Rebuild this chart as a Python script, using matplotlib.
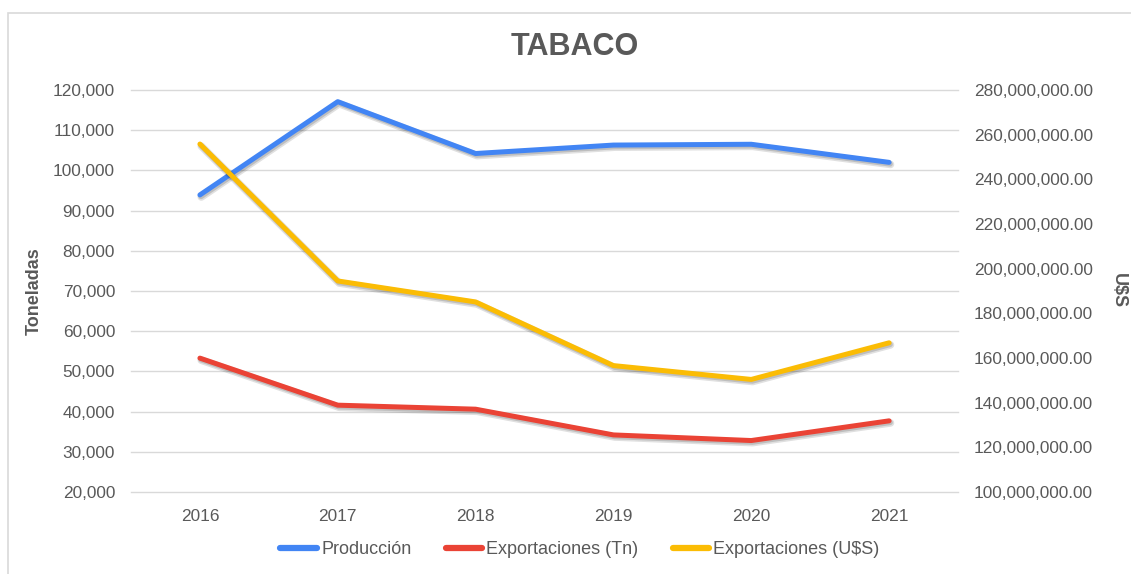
import matplotlib
matplotlib.use("Agg")
import matplotlib.pyplot as plt
import matplotlib.patheffects as pe
from matplotlib.patches import Rectangle
from matplotlib.ticker import FuncFormatter, MultipleLocator

# datos
anios = ["2016", "2017", "2018", "2019", "2020", "2021"]
produccion = [93900, 117100, 104200, 106300, 106500, 102000]
export_tn = [53300, 41600, 40600, 34200, 32800, 37700]
export_usd = [255.8e6, 194.5e6, 185.1e6, 156.6e6, 150.4e6, 166.8e6]

AZUL = "#4285F4"
ROJO = "#EA4335"
AMARILLO = "#FBBC04"
GRIS_TXT = "#595959"
GRIS_GRID = "#D9D9D9"

plt.rcParams["font.family"] = ["Liberation Sans", "DejaVu Sans"]

fig = plt.figure(figsize=(11.31, 5.74), dpi=100)
# borde del area del grafico (como en la hoja de calculo)
fig.patches.append(Rectangle((8 / 1131, -0.05), 1.2, 1 - 13 / 574 + 0.05,
                             transform=fig.transFigure, fill=False,
                             edgecolor=GRIS_GRID, linewidth=1.2))

ax = fig.add_axes([131 / 1131, 1 - 492 / 574, (958 - 131) / 1131, (492 - 90) / 574])
ax2 = ax.twinx()

# sombra suave tipo hoja de calculo
sombra = [pe.SimpleLineShadow(offset=(1.0, -1.5), shadow_color="black", alpha=0.12, linewidth=5.5),
          pe.SimpleLineShadow(offset=(0.8, -1.2), shadow_color="black", alpha=0.15, linewidth=3.8),
          pe.Normal()]

x = range(len(anios))
l1, = ax.plot(x, produccion, color=AZUL, lw=3.6, solid_capstyle="round",
              label="Producción", path_effects=sombra)
l2, = ax.plot(x, export_tn, color=ROJO, lw=3.6, solid_capstyle="round",
              label="Exportaciones (Tn)", path_effects=sombra)
l3, = ax2.plot(x, export_usd, color=AMARILLO, lw=3.6, solid_capstyle="round",
               label="Exportaciones (U$S)", path_effects=sombra)

ax.set_xlim(-0.5, len(anios) - 0.5)
ax.set_xticks(list(x))
ax.set_xticklabels(anios)
ax.set_ylim(20000, 120000)
ax.yaxis.set_major_locator(MultipleLocator(10000))
ax.yaxis.set_major_formatter(FuncFormatter(lambda v, p: f"{v:,.0f}"))
ax2.set_ylim(100e6, 280e6)
ax2.yaxis.set_major_locator(MultipleLocator(20e6))
ax2.yaxis.set_major_formatter(FuncFormatter(lambda v, p: f"{v:,.2f}"))

ax.grid(axis="y", color=GRIS_GRID, linewidth=1)
for gl in ax.get_ygridlines():
    gl.set_clip_on(False)
ax.set_axisbelow(True)
for a in (ax, ax2):
    for s in a.spines.values():
        s.set_visible(False)
    a.tick_params(length=0, labelsize=12.4, labelcolor=GRIS_TXT)
ax.tick_params(axis="y", pad=11.5)
ax.tick_params(axis="x", pad=12)
ax2.tick_params(axis="y", pad=11.5)

ax.set_ylabel("Toneladas", fontsize=13, fontweight="bold", color=GRIS_TXT, labelpad=7)
ax2.set_ylabel("U$S", fontsize=13, fontweight="bold", color=GRIS_TXT,
               rotation=270, labelpad=24)

fig.text(575 / 1131, 1 - 47 / 574, "TABACO", ha="center", va="center",
         fontsize=22, fontweight="bold", color=GRIS_TXT)

leg = fig.legend(handles=[l1, l2, l3], loc="center", bbox_to_anchor=(580 / 1131, 1 - 550 / 574),
                 ncol=3, frameon=False, fontsize=13, handlelength=2.0,
                 handletextpad=0.25, columnspacing=1.9)
for t in leg.get_texts():
    t.set_color(GRIS_TXT)
for h in leg.legend_handles:
    h.set_path_effects([])
    h.set_linewidth(4.5)

fig.savefig("out.png", dpi=100)
